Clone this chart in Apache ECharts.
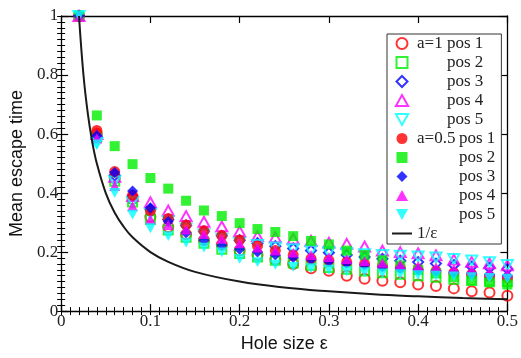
<!DOCTYPE html>
<html>
<head>
<meta charset="utf-8">
<script src="https://cdn.jsdelivr.net/npm/echarts@6/dist/echarts.min.js"></script>
<style>html,body{margin:0;padding:0;background:#fff}#c{width:521px;height:358px}</style>
</head>
<body>
<div id="c"></div>
<script>
const eps = [0.02,0.04,0.06,0.08,0.10,0.12,0.14,0.16,0.18,0.20,0.22,0.24,0.26,0.28,0.30,0.32,0.34,0.36,0.38,0.40,0.42,0.44,0.46,0.48,0.50];
const a1pos1 = [1.0,0.60,0.45,0.38,0.32,0.285,0.26,0.24,0.225,0.205,0.19,0.175,0.16,0.145,0.137,0.12,0.11,0.103,0.098,0.09,0.085,0.077,0.067,0.063,0.052];
const a1pos2 = [1.0,0.59,0.44,0.37,0.31,0.275,0.25,0.23,0.21,0.195,0.183,0.172,0.163,0.155,0.148,0.142,0.136,0.13,0.125,0.12,0.115,0.108,0.104,0.102,0.1];
const a1pos3 = [1.0,0.59,0.46,0.39,0.345,0.31,0.29,0.27,0.255,0.24,0.23,0.22,0.212,0.205,0.198,0.19,0.183,0.177,0.171,0.166,0.161,0.156,0.151,0.147,0.143];
const a1pos4 = [1.0,0.60,0.455,0.39,0.369,0.341,0.322,0.303,0.287,0.27,0.254,0.25,0.245,0.238,0.232,0.228,0.219,0.205,0.2,0.196,0.189,0.175,0.167,0.162,0.155];
const a1pos5 = [1.0,0.57,0.44,0.37,0.33,0.305,0.28,0.26,0.245,0.232,0.224,0.216,0.21,0.205,0.2,0.196,0.193,0.19,0.188,0.185,0.182,0.177,0.172,0.166,0.156];
const a05pos1 = [1.0,0.612,0.473,0.393,0.34,0.314,0.292,0.272,0.256,0.241,0.221,0.205,0.19,0.178,0.172,0.166,0.16,0.153,0.148,0.142,0.136,0.13,0.125,0.118,0.112];
const a05pos2 = [1.0,0.663,0.559,0.498,0.451,0.415,0.374,0.341,0.322,0.298,0.278,0.268,0.254,0.238,0.226,0.205,0.19,0.172,0.155,0.14,0.128,0.115,0.105,0.097,0.09];
const a05pos3 = [1.0,0.595,0.47,0.407,0.35,0.304,0.265,0.24,0.223,0.21,0.2,0.19,0.182,0.175,0.168,0.162,0.156,0.15,0.145,0.14,0.136,0.132,0.128,0.124,0.12];
const a05pos4 = [1.0,0.585,0.424,0.355,0.311,0.292,0.276,0.261,0.245,0.23,0.215,0.205,0.198,0.19,0.183,0.176,0.17,0.164,0.158,0.153,0.148,0.143,0.138,0.133,0.128];
const a05pos5 = [1.0,0.565,0.40,0.327,0.281,0.254,0.232,0.215,0.199,0.177,0.166,0.157,0.15,0.145,0.14,0.135,0.132,0.128,0.125,0.122,0.12,0.117,0.115,0.112,0.11];
const curveX = [0.02,0.025,0.03,0.035,0.04,0.05,0.06,0.07,0.08,0.1,0.12,0.15,0.2,0.25,0.3,0.35,0.4,0.45,0.5];
const curveY = [1.0,0.8,0.667,0.571,0.5,0.4,0.333,0.286,0.25,0.2,0.167,0.133,0.1,0.08,0.067,0.057,0.05,0.044,0.04];
const xTicks = [0,0.1,0.2,0.3,0.4,0.5];
const yTicks = [0,0.2,0.4,0.6,0.8,1];

const SERIF = 'Liberation Serif';
const SANS = 'Liberation Sans';
const DOWN = 'path://M0,0 L10,0 L5,9 Z';
const UP = 'path://M5,0 L10,9 L0,9 Z';
const DIAM = 'path://M5,0 L10,5 L5,10 L0,5 Z';
const SQR = 'path://M0,0 L10,0 L10,10 L0,10 Z';

const defs = [
  {name:'a=1 pos 1', data:a1pos1, sym:'circle', col:'#ff0000', hollow:true, size:10, label:'{g1|a=1}pos 1'},
  {name:'a=1 pos 2', data:a1pos2, sym:SQR, col:'#00ee00', hollow:true, size:9, label:'{g1| }pos 2'},
  {name:'a=1 pos 3', data:a1pos3, sym:DIAM, col:'#0000ff', hollow:true, size:10, label:'{g1| }pos 3'},
  {name:'a=1 pos 4', data:a1pos4, sym:UP, col:'#ff00ff', hollow:true, size:11, label:'{g1| }pos 4'},
  {name:'a=1 pos 5', data:a1pos5, sym:DOWN, col:'#00ffff', hollow:true, size:11, label:'{g1| }pos 5'},
  {name:'a=0.5 pos 1', data:a05pos1, sym:'circle', col:'#ff0000', hollow:false, size:11, label:'{g2|a=0.5}pos 1'},
  {name:'a=0.5 pos 2', data:a05pos2, sym:SQR, col:'#00ee00', hollow:false, size:10, label:'{g2| }pos 2'},
  {name:'a=0.5 pos 3', data:a05pos3, sym:DIAM, col:'#0000ff', hollow:false, size:11, label:'{g2| }pos 3'},
  {name:'a=0.5 pos 4', data:a05pos4, sym:UP, col:'#ff00ff', hollow:false, size:11, label:'{g2| }pos 4'},
  {name:'a=0.5 pos 5', data:a05pos5, sym:DOWN, col:'#00ffff', hollow:false, size:11, label:'{g2| }pos 5'}
];
const labelMap = {};
defs.forEach(d => labelMap[d.name] = d.label);
labelMap['1/ε'] = '{g0|1/ε}';

const series = defs.map(d => ({
  name: d.name,
  type: 'scatter',
  symbol: d.sym,
  symbolSize: d.size,
  symbolKeepAspect: true,
  data: eps.map((e, i) => [e, d.data[i]]),
  itemStyle: d.hollow
    ? {color: 'rgba(255,255,255,0)', borderColor: d.col, borderWidth: 2}
    : {color: d.col, borderWidth: 0},
  emphasis: {disabled: true},
  z: 3
}));
series.push({
  name: '1/ε',
  type: 'line',
  smooth: 0.4,
  showSymbol: false,
  symbol: 'none',
  data: curveX.map((x, i) => [x, curveY[i]]),
  lineStyle: {color: '#1a1a1a', width: 2},
  itemStyle: {color: '#1a1a1a', opacity: 0},
  emphasis: {disabled: true},
  z: 4
});

const axisLineStyle = {show: true, onZero: false, lineStyle: {color: '#000', width: 1.3}};
const majorTick = {show: true, inside: true, length: 7, lineStyle: {color: '#000', width: 1.2}};
const minorTickStyle = {show: true, inside: true, length: 4, lineStyle: {color: '#000', width: 1}};

function mainX(pos, withLabels) {
  return {
    type: 'value', min: 0, max: 0.5, interval: 0.1, position: pos,
    axisLine: axisLineStyle, axisTick: majorTick, splitLine: {show: false},
    name: withLabels ? 'Hole size ε' : '', nameLocation: 'middle', nameGap: 16,
    nameTextStyle: {fontFamily: SANS, fontSize: 18, color: '#111'},
    axisLabel: withLabels ? {fontFamily: SERIF, fontSize: 17, color: '#222', margin: 2,
      formatter: v => { const t = xTicks.find(k => Math.abs(k - v) < 1e-9); return t === undefined ? '' : String(t); }} : {show: false}
  };
}
function minorX(pos) {
  return {
    type: 'value', min: 0, max: 0.5, interval: 0.01, position: pos,
    axisLine: {show: false}, axisTick: minorTickStyle, splitLine: {show: false}, axisLabel: {show: false}
  };
}
function mainY(pos, withLabels) {
  return {
    type: 'value', min: 0, max: 1, interval: 0.2, position: pos,
    axisLine: axisLineStyle, axisTick: majorTick, splitLine: {show: false},
    name: withLabels ? 'Mean escape time' : '', nameLocation: 'middle', nameGap: 31,
    nameTextStyle: {fontFamily: SANS, fontSize: 18, color: '#111'},
    axisLabel: withLabels ? {fontFamily: SERIF, fontSize: 17, color: '#222', margin: 3,
      formatter: v => { const t = yTicks.find(k => Math.abs(k - v) < 1e-9); return t === undefined ? '' : String(t); }} : {show: false}
  };
}
function minorY(pos) {
  return {
    type: 'value', min: 0, max: 1, interval: 0.02, position: pos,
    axisLine: {show: false}, axisTick: minorTickStyle, splitLine: {show: false}, axisLabel: {show: false}
  };
}

const richBase = {fontFamily: SERIF, fontSize: 17, color: '#222', lineHeight: 19};

const chart = echarts.init(document.getElementById('c'), null, {renderer: 'canvas'});
chart.setOption({
  animation: false,
  backgroundColor: '#fff',
  grid: {left: 60, right: 9, top: 16, bottom: 38, containLabel: false},
  xAxis: [mainX('bottom', true), mainX('top', false), minorX('bottom'), minorX('top')],
  yAxis: [mainY('left', true), mainY('right', false), minorY('left'), minorY('right')],
  legend: {
    orient: 'vertical',
    left: 387, top: 34,
    padding: [0, 6, 1, 4],
    itemGap: 0,
    itemWidth: 20,
    itemHeight: 11,
    backgroundColor: '#fff',
    borderColor: '#333',
    borderWidth: 1,
    selectedMode: false,
    data: defs.map(d => d.name).concat([{name: '1/ε', itemStyle: {opacity: 0}}]),
    formatter: n => labelMap[n],
    textStyle: Object.assign({}, richBase, {
      rich: {
        g0: Object.assign({}, richBase),
        g1: Object.assign({width: 30}, richBase),
        g2: Object.assign({width: 42}, richBase)
      }
    })
  },
  series: series
});
</script>
</body>
</html>
